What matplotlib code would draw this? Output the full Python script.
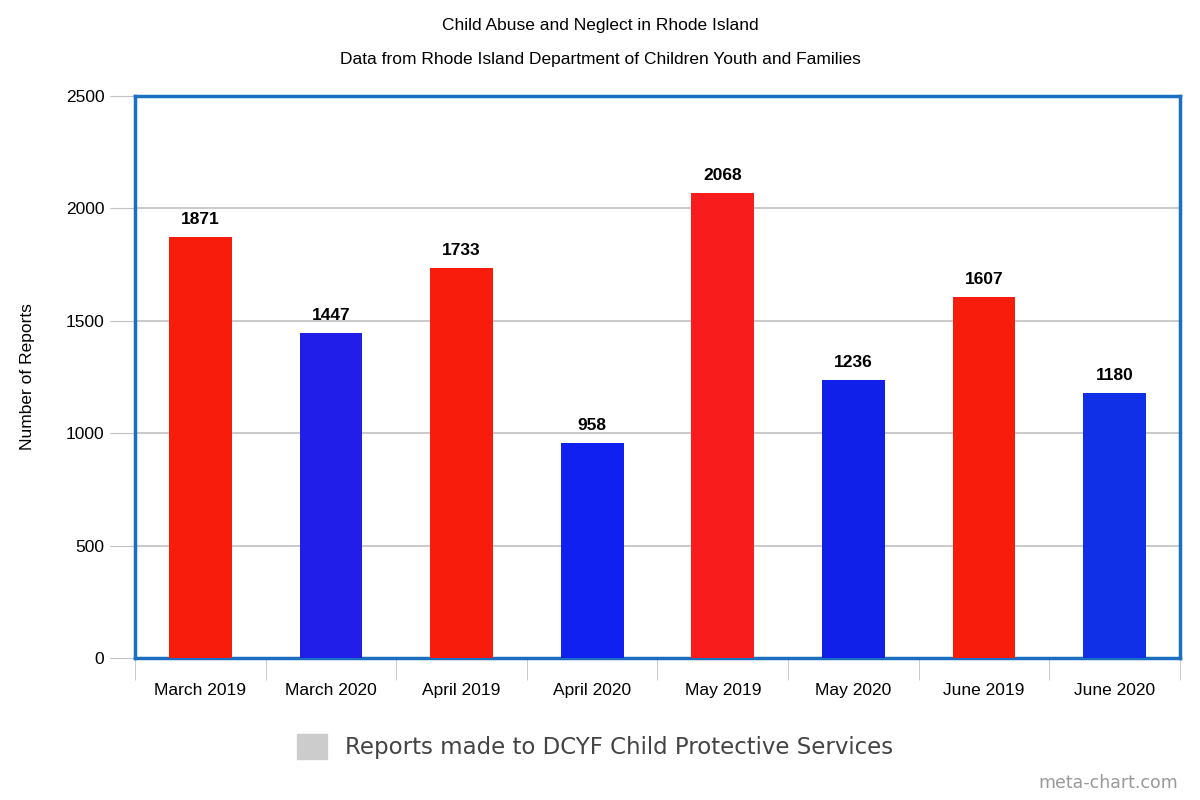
import numpy as np
import matplotlib
matplotlib.use("Agg")
import matplotlib.pyplot as plt
from matplotlib.patches import Patch

categories = ["March 2019", "March 2020", "April 2019", "April 2020",
              "May 2019", "May 2020", "June 2019", "June 2020"]
reports = [1871, 1447, 1733, 958, 2068, 1236, 1607, 1180]
bar_colors = ["#f81c0c", "#201ee8", "#f81c0c", "#1020f0",
              "#f81c1c", "#1020e8", "#f81c0c", "#1030e8"]

plt.rcParams['font.family'] = ['Liberation Sans', 'DejaVu Sans']

fig = plt.figure(figsize=(12, 8), dpi=100)
ax = fig.add_axes([0.1125, 0.1775, 0.8708, 0.7025])

x = np.arange(len(categories))
ax.bar(x, reports, width=0.48, color=bar_colors, zorder=3)
for xi, v in zip(x, reports):
    ax.text(xi, v + 45, str(v), ha="center", va="bottom",
            fontsize=12.5, fontweight="bold", zorder=4)

ax.set_xlim(-0.5, len(categories) - 0.5)
ax.set_ylim(0, 2500)
ax.set_yticks(range(0, 2501, 500))
ax.grid(axis="y", color="#c0c0c0", linewidth=1.2, zorder=0)
ax.set_xticks(x)
ax.set_xticklabels(categories, fontsize=12.5)
ax.set_xticks(np.arange(-0.5, len(categories)), minor=True)
ax.tick_params(axis="x", which="major", length=0, pad=18)
ax.tick_params(axis="x", which="minor", length=16, color="#c0c0c0")
ax.tick_params(axis="y", length=18, color="#c0c0c0", labelsize=12.5, pad=4)
for s in ax.spines.values():
    s.set_color("#1a6fc0")
    s.set_linewidth(2.5)
ax.set_ylabel("Number of Reports", fontsize=12.5, labelpad=22)

fig.text(0.5, 0.962, "Child Abuse and Neglect in Rhode Island", ha="center", fontsize=12.5)
fig.text(0.5, 0.920, "Data from Rhode Island Department of Children Youth and Families",
         ha="center", fontsize=12.5)

fig.legend(handles=[Patch(color="#cccccc")],
           labels=["Reports made to DCYF Child Protective Services"],
           loc="center", bbox_to_anchor=(0.496, 0.067), frameon=False,
           fontsize=16.5, handlelength=1.3, handleheight=1.3,
           prop={'family': 'DejaVu Sans', 'size': 16.5}, labelcolor="#444444")
fig.text(0.982, 0.01, "meta-chart.com", ha="right", va="bottom",
         fontsize=12.5, color="#999999", family="DejaVu Sans")

fig.savefig("out.png", dpi=100)
